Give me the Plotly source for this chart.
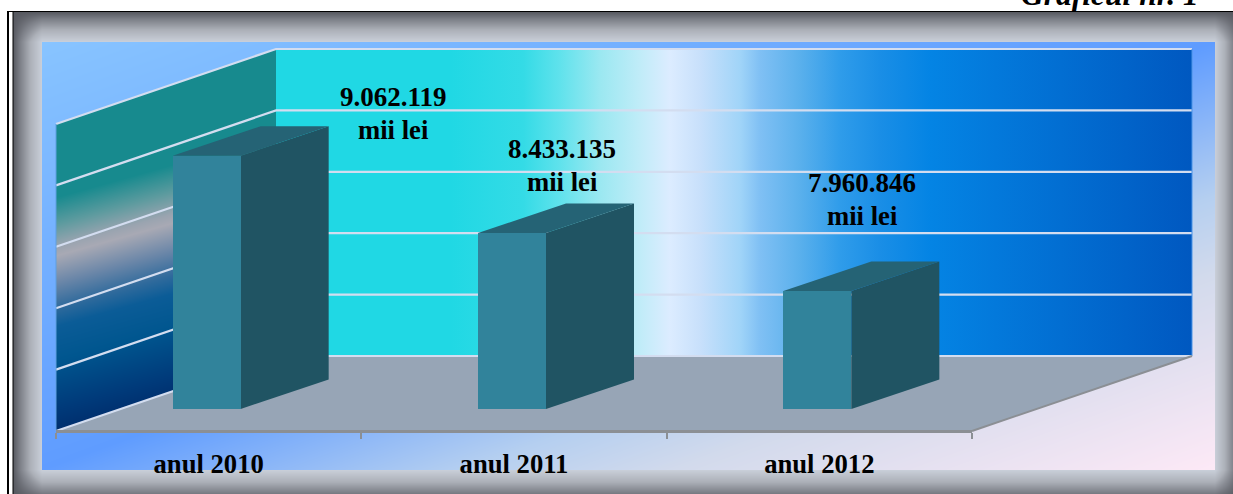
import numpy as np
import plotly.graph_objects as go

# Chart content
categories = ["anul 2010", "anul 2011", "anul 2012"]
values = [9062119, 8433135, 7960846]
unit = "mii lei"
grid_levels = [7000000, 7500000, 8000000, 8500000, 9000000, 9500000]
heading = "Graficul nr. 1"

# Label placement relative to each bar top (pixels)
label_dx = [185, 48, 43]
label_dy = [42, 68, 92]
LINE_GAP = 16.5

# Page and oblique-projection geometry (pixels)
W, H = 1233, 494
Y_MIN, Y_MAX = 7000000, 9500000
FRONT_L, FRONT_R, FRONT_Y = 56, 972, 431
BACK_L, BACK_R, BACK_Y = 276, 1192, 356
WALL_H = 307
BAR_BASE = 409
BAR_W = 68
BAR_SHIFT = -2
BAR_DX, BAR_DY = 88, 29.5
DEPTH_X, DEPTH_Y = BACK_L - FRONT_L, FRONT_Y - BACK_Y

FONT = "Liberation Serif"
GRID_COL = "#d3ddf0"


def level_px(v, base):
    return base - (v - Y_MIN) / (Y_MAX - Y_MIN) * WALL_H


def poly(xs, ys, color=None, gradient=None):
    kw = dict(fillgradient=gradient) if gradient else dict(fillcolor=color)
    return go.Scatter(x=xs, y=ys, mode="lines", fill="toself", line=dict(width=0),
                      hoverinfo="skip", showlegend=False, **kw)


def seg(xs, ys, color, width):
    return go.Scatter(x=xs, y=ys, mode="lines", line=dict(color=color, width=width),
                      hoverinfo="skip", showlegend=False)


def ramp(kind, start, stop, stops):
    return dict(type=kind, start=start, stop=stop, colorscale=stops)


fig = go.Figure()

# Soft inner shadow of the frame around the chart area
OUT_L, OUT_T, OUT_R, OUT_B = 13, 12, 1240, 500
IN_L, IN_T, IN_R, IN_B = 42, 42, 1215, 470
fx = np.arange(OUT_L + 0.5, W, 1.0)
fy = np.arange(OUT_T + 0.5, H, 1.0)
sx = np.minimum((fx - OUT_L) / (IN_L - OUT_L), (OUT_R - fx) / (OUT_R - IN_R)).clip(0, 1)
sy = np.minimum((fy - OUT_T) / (IN_T - OUT_T), (OUT_B - fy) / (OUT_B - IN_B)).clip(0, 1)
fig.add_trace(go.Heatmap(x=fx, y=fy, z=np.outer(sy, sx), zmin=0, zmax=1, showscale=False, hoverinfo="skip",
                         colorscale=[[0, "#56585f"], [0.25, "#7d8088"], [0.6, "#acb0b8"], [1, "#c9cfd9"]]))

# Diagonal gradient of the chart area
gx = np.arange(IN_L + 0.5, IN_R, 1.0)
gy = np.arange(IN_T + 0.5, IN_B, 1.0)
area = (((gx - IN_L) / (IN_R - IN_L))[None, :] + ((gy - IN_T) / (IN_B - IN_T))[:, None]) / 2
fig.add_trace(go.Heatmap(x=gx, y=gy, z=area, zmin=0, zmax=1, showscale=False, hoverinfo="skip",
                         colorscale=[[0, "#88c4ff"], [0.5, "#5f9cff"], [0.68, "#b5cff0"], [0.77, "#d2daec"],
                                     [1, "#fde9f6"]]))

# Left wall
wx = np.arange(FRONT_L, BACK_L)
wy = np.arange(BACK_Y - WALL_H, FRONT_Y + 1)
wxx, wyy = np.meshgrid(wx + 0.5, wy + 0.5)
slope = DEPTH_Y / DEPTH_X
top_edge = (FRONT_Y - WALL_H) - slope * (wxx - FRONT_L)
bot_edge = FRONT_Y - slope * (wxx - FRONT_L)
wall = (wyy + 0.28 * (wxx - FRONT_L) - (FRONT_Y - WALL_H)) / WALL_H
wall[(wyy < top_edge) | (wyy > bot_edge)] = np.nan
fig.add_trace(go.Heatmap(x=wx + 0.5, y=wy + 0.5, z=wall, zmin=0, zmax=1, showscale=False, hoverinfo="skip",
                         colorscale=[[0, "#178a8e"], [0.24, "#178a8e"], [0.33, "#5e9b9f"], [0.40, "#9aa4b0"],
                                     [0.43, "#a8a9b4"], [0.52, "#6a86a8"], [0.60, "#2f6a9c"], [0.66, "#0b5c97"],
                                     [0.77, "#00568f"], [0.93, "#003a7a"], [1, "#002f6e"]]))

# Back wall
fig.add_trace(poly([BACK_L, BACK_R, BACK_R, BACK_L], [BACK_Y - WALL_H] * 2 + [BACK_Y] * 2,
                   gradient=ramp("horizontal", BACK_L, BACK_R, [
                       [0, "#20d8e4"], [0.19, "#20d8e4"], [0.27, "#34dbe6"], [0.31, "#60e2ec"],
                       [0.354, "#9be8f1"], [0.397, "#c0ecf8"], [0.43, "#dcecff"], [0.463, "#c8e0fb"],
                       [0.507, "#a0d4f8"], [0.528, "#80c0f4"], [0.572, "#5ab0ec"], [0.616, "#2f9cea"],
                       [0.659, "#1a8ee6"], [0.714, "#0484e4"], [1, "#0058c0"]])))

# Floor
fig.add_trace(poly([FRONT_L, BACK_L, BACK_R, FRONT_R], [FRONT_Y, BACK_Y, BACK_Y, FRONT_Y], color="#97a5b6"))

# Gridlines across both walls
for level in grid_levels:
    back = level_px(level, BACK_Y)
    fig.add_trace(seg([FRONT_L, BACK_L, BACK_R], [back + DEPTH_Y, back, back], GRID_COL, 2.2))

fig.add_trace(seg([BACK_R, BACK_R], [BACK_Y - WALL_H, BACK_Y], "#4a93e6", 1))
fig.add_trace(seg([FRONT_L, FRONT_L], [FRONT_Y - WALL_H, FRONT_Y], "#5f9fe0", 1))
fig.add_trace(seg([FRONT_R, BACK_R], [FRONT_Y, BACK_Y], "#8b8f94", 2))

# Side and top faces of each bar, derived from its value
plot_w = FRONT_R - FRONT_L
cat_w = plot_w / len(categories)
for i, v in enumerate(values):
    center = FRONT_L + cat_w * (i + 0.5) + BAR_SHIFT
    left, right = center - BAR_W / 2, center + BAR_W / 2
    top = level_px(v, BAR_BASE)
    fig.add_trace(poly([right, right + BAR_DX, right + BAR_DX, right],
                       [BAR_BASE, BAR_BASE - BAR_DY, top - BAR_DY, top], color="#205463"))
    fig.add_trace(poly([left, left + BAR_DX, right + BAR_DX, right],
                       [top, top - BAR_DY, top - BAR_DY, top], color="#256375"))

# Front faces on the value axis
fig.add_trace(go.Bar(x=categories, y=[v - Y_MIN for v in values], base=Y_MIN,
                     xaxis="x2", yaxis="y2", width=BAR_W / cat_w,
                     offset=(BAR_SHIFT - BAR_W / 2) / cat_w,
                     marker=dict(color="#31839b", line=dict(width=0)),
                     hoverinfo="skip", showlegend=False))

annotations = []
for i, (cat, v) in enumerate(zip(categories, values)):
    amount = f"{v:,}".replace(",", ".")
    for text, gap, size in ((amount, LINE_GAP, 27), (unit, -LINE_GAP, 26.67)):
        annotations.append(dict(x=cat, y=v, xref="x2", yref="y2", xshift=label_dx[i], yshift=label_dy[i] + gap,
                                text=f"<b>{text}</b>", showarrow=False, align="center",
                                xanchor="center", yanchor="middle",
                                font=dict(family=FONT, size=size, color="#000000")))
annotations.append(dict(x=1201 / W, y=1 - 14 / H, xref="paper", yref="paper", xanchor="right", yanchor="bottom",
                        text=f"<b><i>{heading}</i></b>", showarrow=False,
                        font=dict(family=FONT, size=31.5, color="#000000")))

# Page frame lines
shapes = [
    dict(type="line", xref="x", yref="y", x0=8, x1=8, y0=11, y1=H, line=dict(color="#000000", width=2)),
    dict(type="line", xref="x", yref="y", x0=13, x1=13, y0=12, y1=H, line=dict(color="#000000", width=1)),
    dict(type="line", xref="x", yref="y", x0=7, x1=W, y0=11.5, y1=11.5, line=dict(color="#000000", width=1)),
]

fig.update_layout(
    width=W, height=H, autosize=False, margin=dict(l=0, r=0, t=0, b=0),
    paper_bgcolor="#ffffff", plot_bgcolor="rgba(0,0,0,0)", showlegend=False, bargap=0,
    annotations=annotations, shapes=shapes,
    xaxis=dict(range=[0, W], domain=[0, 1], visible=False, fixedrange=True),
    yaxis=dict(range=[H, 0], domain=[0, 1], visible=False, fixedrange=True),
    xaxis2=dict(type="category", categoryorder="array", categoryarray=categories,
                range=[-0.5, len(categories) - 0.5],
                domain=[FRONT_L / W, FRONT_R / W], anchor="free", position=1 - FRONT_Y / H,
                showline=True, linecolor="#8b8f94", linewidth=2.5, showgrid=False, zeroline=False,
                ticks="outside", tickson="boundaries", ticklen=6, tickwidth=1.5, tickcolor="#8b8f94",
                ticklabelstandoff=8, tickprefix="<b>", ticksuffix="</b>",
                tickfont=dict(family=FONT, size=26.67, color="#000000"), fixedrange=True),
    yaxis2=dict(range=[Y_MIN, Y_MAX], domain=[1 - BAR_BASE / H, 1 - (BAR_BASE - WALL_H) / H],
                anchor="x2", visible=False, fixedrange=True),
)

fig.write_html("out.html")
